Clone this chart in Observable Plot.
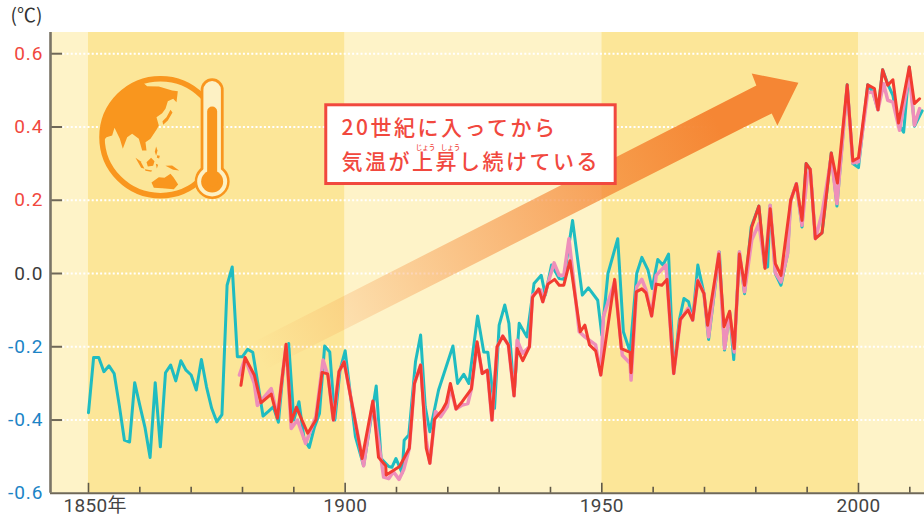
<!DOCTYPE html>
<html lang="ja">
<head>
<meta charset="utf-8">
<script src="https://cdn.jsdelivr.net/npm/d3@7"></script>
<script src="https://cdn.jsdelivr.net/npm/@observablehq/plot@0.6"></script>
<style>html,body{margin:0;padding:0;background:#fff;overflow:hidden}svg{display:block}
.callout text{letter-spacing:2.5px}
.ylab text{letter-spacing:1px}
.xlab text{letter-spacing:.3px}
.ruby text{letter-spacing:0}
</style>
</head>
<body>
<div id="chart"></div>
<script>
const tealYears = [1850,1851,1852,1853,1854,1855,1856,1857,1858,1859,1860,1861,1862,1863,1864,1865,1866,1867,1868,1869,1870,1871,1872,1873,1874,1875,1876,1877,1878,1879,1880,1881,1882,1883,1884,1885,1886,1887,1888,1889,1890,1891,1892,1893,1894,1895,1896,1897,1898,1899,1900,1902,1903.6,1906.05,1907,1908.5,1909.1,1909.9,1911.1,1911.5,1912.4,1913.7,1914.7,1915.6,1916.5,1918.2,1921,1921.9,1923.1,1924.1,1925.8,1927,1927.8,1929.1,1930,1931.1,1931.9,1932.9,1933.9,1935.4,1936.8,1938.2,1939,1940.2,1941.7,1942.6,1944.3,1946.2,1947.4,1949.2,1950,1951.2,1953.1,1954.2,1955.5,1956.8,1957.8,1959,1959.8,1960.9,1961.9,1963,1964,1965.1,1966,1966.9,1967.7,1968.7,1969.9,1970.8,1972.9,1973.9,1974.9,1975.7,1976.8,1977.8,1979.1,1980.6,1981.7,1982.3,1982.8,1983.8,1984.9,1986.2,1986.8,1987.9,1989,1989.8,1990.6,1991.6,1992.9,1994.7,1995.8,1997.8,1998.9,2000,2001.8,2002.8,2003.8,2004.7,2005.8,2006.7,2007.8,2008.8,2009.9,2010.9,2012.4];
const tealValues = [-0.38,-0.229,-0.229,-0.268,-0.252,-0.273,-0.36,-0.455,-0.46,-0.298,-0.36,-0.42,-0.502,-0.298,-0.473,-0.271,-0.25,-0.293,-0.238,-0.264,-0.277,-0.318,-0.235,-0.31,-0.368,-0.405,-0.385,-0.032,0.018,-0.227,-0.227,-0.207,-0.215,-0.3,-0.389,-0.377,-0.364,-0.406,-0.255,-0.191,-0.4,-0.35,-0.452,-0.475,-0.42,-0.382,-0.198,-0.214,-0.4,-0.264,-0.211,-0.445,-0.525,-0.307,-0.505,-0.527,-0.529,-0.505,-0.545,-0.455,-0.441,-0.241,-0.168,-0.364,-0.432,-0.318,-0.198,-0.3,-0.275,-0.3,-0.116,-0.214,-0.215,-0.368,-0.141,-0.086,-0.136,-0.332,-0.136,-0.173,-0.027,-0.005,-0.059,0.023,-0.014,-0.016,0.145,-0.059,-0.039,-0.073,-0.168,0,0.095,-0.159,-0.214,0,0.044,0.009,-0.041,0.038,0.023,0.053,-0.273,-0.127,-0.068,-0.077,-0.127,0.023,-0.055,-0.18,0.059,-0.209,-0.105,-0.235,0.059,-0.055,0.127,0.184,0.018,0.018,0.186,0,-0.032,0.055,0.2,0.245,0.127,0.3,0.284,0.097,0.111,0.329,0.184,0.515,0.3,0.289,0.515,0.495,0.447,0.556,0.514,0.486,0.409,0.386,0.564,0.402,0.444];

const pinkYears = [1879.4,1880.5,1882.3,1882.9,1885.6,1886.8,1888.5,1889.5,1890.7,1892.3,1894.3,1895.7,1896.7,1897.7,1898.8,1899.8,1903.6,1905.4,1907.5,1908.5,1909.4,1910.5,1911.4,1912.5,1913.5,1914.7,1915.8,1916.5,1917.6,1918.6,1919.9,1920.5,1921.6,1922.8,1923.9,1924.6,1925.7,1926.7,1927.7,1928.6,1929.6,1930.7,1931.8,1932.9,1933.5,1934.6,1935.9,1936.5,1938.1,1938.5,1939.5,1940.7,1941.7,1942.6,1943.6,1945.6,1946.7,1948.8,1949.8,1950.3,1952.5,1954,1955.5,1955.7,1956.8,1957.8,1958.6,1959.7,1960.6,1962.5,1964,1965.3,1966.8,1967.7,1968.7,1969.9,1970.8,1972.8,1973.9,1974.9,1975.8,1976.8,1977.8,1979.2,1980.6,1981.8,1982.8,1983.8,1984.9,1986.2,1986.8,1987.9,1989,1990,1990.6,1991.6,1992.9,1994.7,1995.8,1997.8,1998.9,2000,2001.8,2002.8,2003.8,2004.9,2005.7,2006.7,2008,2009.9,2010.9,2011.9];
const pinkValues = [-0.277,-0.232,-0.3,-0.36,-0.314,-0.391,-0.195,-0.423,-0.4,-0.464,-0.391,-0.236,-0.282,-0.4,-0.268,-0.241,-0.525,-0.35,-0.556,-0.56,-0.541,-0.562,-0.536,-0.477,-0.3,-0.25,-0.455,-0.518,-0.377,-0.391,-0.364,-0.309,-0.37,-0.359,-0.355,-0.315,-0.191,-0.273,-0.264,-0.4,-0.2,-0.171,-0.195,-0.334,-0.182,-0.218,-0.2,-0.059,-0.045,-0.077,-0.027,0.029,-0.005,-0.005,0.095,-0.159,-0.173,-0.195,-0.277,-0.118,-0.023,-0.223,-0.245,-0.291,-0.036,-0.016,-0.045,-0.116,-0.005,0.023,-0.273,-0.127,-0.095,-0.127,-0.018,-0.055,-0.173,0.059,-0.205,-0.109,-0.214,0.059,-0.05,0.091,0.136,0.018,0.186,0.002,-0.023,0.055,0.2,0.245,0.132,0.264,0.284,0.095,0.164,0.318,0.191,0.509,0.302,0.305,0.495,0.495,0.447,0.518,0.473,0.468,0.391,0.545,0.405,0.45];

const redYears = [1879.7,1880.5,1882.3,1883.6,1885.6,1886.8,1888.5,1889.5,1890.5,1892.7,1894.3,1895.5,1896.6,1897.7,1898.8,1899.8,1903.3,1905.4,1906.5,1907.9,1908,1910.6,1912.5,1913.5,1914.7,1915.8,1916.5,1917.4,1918.9,1919.7,1920.5,1921.6,1922.8,1924.6,1925.7,1926.7,1927.7,1928.6,1929.6,1930.7,1931.8,1932.9,1933.5,1934.6,1935.9,1936.5,1937.7,1938.5,1939.5,1940.8,1941.7,1942.6,1943.8,1945.8,1946.7,1947.6,1948.8,1949.8,1952.5,1953.8,1955.5,1955.7,1956.7,1957.8,1958.6,1959.7,1960.6,1961.7,1962.7,1964,1965.3,1966.8,1967.7,1968.7,1969.9,1970.6,1972.8,1973.8,1974.9,1975.8,1976.8,1977.8,1979.2,1980.6,1981.8,1982.8,1983.8,1984.9,1986.8,1987.9,1989,1989.8,1990.6,1991.6,1992.9,1994.7,1995.9,1997.8,1998.9,2000,2001.8,2003.1,2003.8,2004.7,2005.7,2006.7,2007.8,2009.9,2010.9,2011.9];
const redValues = [-0.305,-0.229,-0.277,-0.353,-0.329,-0.395,-0.193,-0.405,-0.365,-0.436,-0.4,-0.27,-0.274,-0.4,-0.268,-0.241,-0.505,-0.348,-0.502,-0.525,-0.55,-0.527,-0.477,-0.3,-0.25,-0.477,-0.518,-0.398,-0.373,-0.353,-0.3,-0.37,-0.35,-0.315,-0.186,-0.273,-0.264,-0.4,-0.2,-0.171,-0.195,-0.334,-0.205,-0.238,-0.2,-0.065,-0.042,-0.077,-0.029,-0.016,-0.032,-0.032,0.035,-0.159,-0.141,-0.195,-0.211,-0.277,-0.016,-0.205,-0.215,-0.271,-0.05,-0.042,-0.053,-0.116,-0.029,-0.032,-0.016,-0.273,-0.125,-0.1,-0.127,-0.02,-0.055,-0.141,0.053,-0.145,-0.103,-0.205,0.053,-0.032,0.127,0.184,0.014,0.177,0.027,-0.005,0.2,0.245,0.145,0.3,0.284,0.095,0.111,0.329,0.247,0.515,0.307,0.316,0.515,0.505,0.447,0.556,0.514,0.529,0.411,0.564,0.464,0.477];

const yTicks = [0.6,0.4,0.2,0,-0.2,-0.4,-0.6];
const gridTicks = [0.6,0.4,0.2,0,-0.2,-0.4];
const minorYears = [1860,1870,1880,1890,1910,1920,1930,1940,1960,1970,1980,1990,2010];
const majorYears = [1850,1900,1950,2000];
const bandStart = [1842.6,1850,1900,1950,2000];
const bandEnd = [1850,1900,1950,2000,2012.86];
const bandFill = ["#fef3c8","#fce698","#fef3c8","#fce698","#fef3c8"];

const arrowYears = [1881.6,1980.1,1979.2,1988.3,1984.2,1983.1,1884.5];
const arrowValues = [-0.191,0.513,0.546,0.521,0.404,0.437,-0.262];

const rows = (xs, ys) => xs.map((x, i) => ({x, y: ys[i]}));
const bands = bandStart.map((x1, i) => ({x1, x2: bandEnd[i], fill: bandFill[i]}));

// Icon outlines, in the icon's own units; placed on the chart by iconX / iconY.
const iconX = u => 1850.39 + u / 15.4;
const iconY = v => 0.5542 - v / 1099;
const land = [
  [[170,47],[205,48],[245,60],[262,62],[258,95],[248,85],[232,92],[225,115],[215,128],[198,140],[205,165],[198,178],[180,205],[165,215],[168,240],[155,240],[145,205],[125,190],[110,200],[97,235],[88,205],[72,172],[65,195],[48,200],[35,215],[32,180],[42,130],[70,85],[110,50],[150,30]],
  [[240,118],[246,126],[232,150],[218,163],[216,152],[228,140]],
  [[197,228],[201,240],[197,256],[193,244]],
  [[135,262],[150,272],[162,295],[152,292]],
  [[168,275],[182,262],[192,272],[188,286],[172,288]],
  [[163,296],[185,300],[182,304],[165,301]],
  [[200,254],[208,256],[206,264],[199,262]],
  [[196,280],[203,283],[199,294]],
  [[225,286],[245,285],[266,300],[248,298]],
  [[183,336],[205,320],[222,322],[240,310],[250,322],[263,342],[250,356],[215,353],[190,352]]
];
const landRows = land.flatMap((p, k) => p.map(([u, v]) => ({x: iconX(u), y: iconY(v), k})));
const iconOrange = "#f9961e", iconCream = "#fdf1c4";
const tubeRow = (v1, v2) => [{x: iconX(365), y: iconY(v1)}, {x: iconX(365), y: iconY(v2)}];
const bulb = [{x: iconX(365), y: iconY(333)}];
const globe = [{x: iconX(210), y: iconY(200)}];

const cjk = "'Noto Sans CJK JP'";
const labelFont = {fontFamily: "Roboto, " + cjk, fontSize: 19};

const plot = Plot.plot({
  width: 924, height: 516,
  marginLeft: 50, marginRight: 0, marginTop: 32, marginBottom: 23.2,
  x: {domain: [1842.6, 2012.86], axis: null},
  y: {domain: [-0.6, 0.6579], axis: null},
  style: {background: "#fff", overflow: "visible"},
  marks: [
    Plot.rect(bands, {x1: "x1", x2: "x2", y1: -0.6, y2: 0.6579, fill: d => d.fill}),
    Plot.ruleY(gridTicks, {x1: 1845, x2: 2012.86, stroke: "#fff", strokeWidth: 2, strokeDasharray: "2 2.2"}),
    Plot.line(rows(arrowYears, arrowValues), {x: "x", y: "y", fill: "url(#arrowGrad)", stroke: null}),

    // globe and thermometer
    Plot.dot(globe, {x: "x", y: "y", r: 58.5, stroke: iconOrange, strokeWidth: 5.5, fill: "none"}),
    Plot.line(landRows, {x: "x", y: "y", z: "k", fill: iconOrange, stroke: null}),
    Plot.dot(bulb, {x: "x", y: "y", r: 17.5, fill: iconOrange}),
    Plot.line(tubeRow(58, 333), {x: "x", y: "y", stroke: iconOrange, strokeWidth: 23, strokeLinecap: "round"}),
    Plot.dot(bulb, {x: "x", y: "y", r: 15, fill: iconCream}),
    Plot.line(tubeRow(58, 333), {x: "x", y: "y", stroke: iconCream, strokeWidth: 17.5, strokeLinecap: "round"}),
    Plot.dot(bulb, {x: "x", y: "y", r: 11, fill: iconOrange}),
    Plot.line(tubeRow(123, 333), {x: "x", y: "y", stroke: iconOrange, strokeWidth: 10, strokeLinecap: "round"}),

    // series
    Plot.line(rows(tealYears, tealValues), {x: "x", y: "y", stroke: "#1fbcc1", strokeWidth: 3}),
    Plot.line(rows(pinkYears, pinkValues), {x: "x", y: "y", stroke: "#ee8fba", strokeWidth: 3.5}),
    Plot.line(rows(redYears, redValues), {x: "x", y: "y", stroke: "#f23b30", strokeWidth: 3}),

    // axes
    Plot.ruleX(minorYears, {y1: -0.6, y2: -0.5836, stroke: "#5f5848", strokeWidth: 1.6}),
    Plot.ruleX(majorYears, {y1: -0.6, y2: -0.5727, stroke: "#5f5848", strokeWidth: 1.6}),
    Plot.ruleY([-0.6], {x1: 1842.6, x2: 2012.86, stroke: "#6f6858", strokeWidth: 2}),
    Plot.ruleY(gridTicks, {x1: 1842.6, x2: 1844.95, stroke: "#6f6858", strokeWidth: 2}),
    Plot.ruleX([1842.6], {y1: -0.6, y2: 0.6579, stroke: "#7a7466", strokeWidth: 2.6}),

    Plot.text(yTicks.filter(d => d > 0), {className: "ylab", y: d => d, frameAnchor: "left", dx: -7, textAnchor: "end", text: d => d.toFixed(1), fill: "#f1483e", ...labelFont}),
    Plot.text([0], {className: "ylab", y: d => d, frameAnchor: "left", dx: -7, textAnchor: "end", text: d => d.toFixed(1), fill: "#3b3b3b", ...labelFont}),
    Plot.text(yTicks.filter(d => d < 0), {className: "ylab", y: d => d, frameAnchor: "left", dx: -7, textAnchor: "end", text: d => d.toFixed(1), fill: "#1c84c6", ...labelFont}),
    Plot.text(["(℃)"], {frameAnchor: "top-left", dx: -40, dy: -24, text: d => d, textAnchor: "start", lineAnchor: "top", fill: "#333", fontFamily: cjk, fontSize: 19}),
    Plot.text([1900,1950,2000], {className: "xlab", x: d => d, frameAnchor: "bottom", dy: 19, text: d => String(d), fill: "#444", ...labelFont}),
    Plot.text(["1850年"], {className: "xlab", x: 1850, frameAnchor: "bottom", dy: 19, dx: -25, textAnchor: "start", text: d => d, fill: "#444", ...labelFont}),

    // callout
    Plot.rect([0], {x1: 1896.32, x2: 1952.7, y1: 0.2443, y2: 0.4592, fill: "#fff", stroke: "#f1483e", strokeWidth: 3}),
    Plot.text(["20世紀に入ってから"], {className: "callout", x: 1899.29, y: 0.3958, text: d => d, textAnchor: "start", fill: "#f1483e", fontFamily: cjk, fontSize: 21, fontWeight: 500}),
    Plot.text(["気温が上昇し続けている"], {className: "callout", x: 1899.29, y: 0.303, text: d => d, textAnchor: "start", fill: "#f1483e", fontFamily: cjk, fontSize: 21, fontWeight: 500}),
    Plot.text(["じょう"], {className: "ruby", x: 1915.65, y: 0.344, text: d => d, fill: "#f1483e", fontFamily: cjk, fontSize: 6.5, fontWeight: 500}),
    Plot.text(["しょう"], {className: "ruby", x: 1920.5, y: 0.344, text: d => d, fill: "#f1483e", fontFamily: cjk, fontSize: 6.5, fontWeight: 500})
  ]
});

// Gradient used by the big trend arrow.
const ns = "http://www.w3.org/2000/svg";
const defs = document.createElementNS(ns, "defs");
const grad = document.createElementNS(ns, "linearGradient");
grad.setAttribute("id", "arrowGrad");
grad.setAttribute("gradientUnits", "userSpaceOnUse");
grad.setAttribute("x1", 255); grad.setAttribute("y1", 350);
grad.setAttribute("x2", 715); grad.setAttribute("y2", 120);
for (const [o, a] of [[0, 0], [1, 1]]) {
  const s = document.createElementNS(ns, "stop");
  s.setAttribute("offset", o);
  s.setAttribute("stop-color", "#f58634");
  s.setAttribute("stop-opacity", a);
  grad.appendChild(s);
}
defs.appendChild(grad);
plot.insertBefore(defs, plot.firstChild);
document.getElementById("chart").appendChild(plot);
</script>
</body>
</html>
